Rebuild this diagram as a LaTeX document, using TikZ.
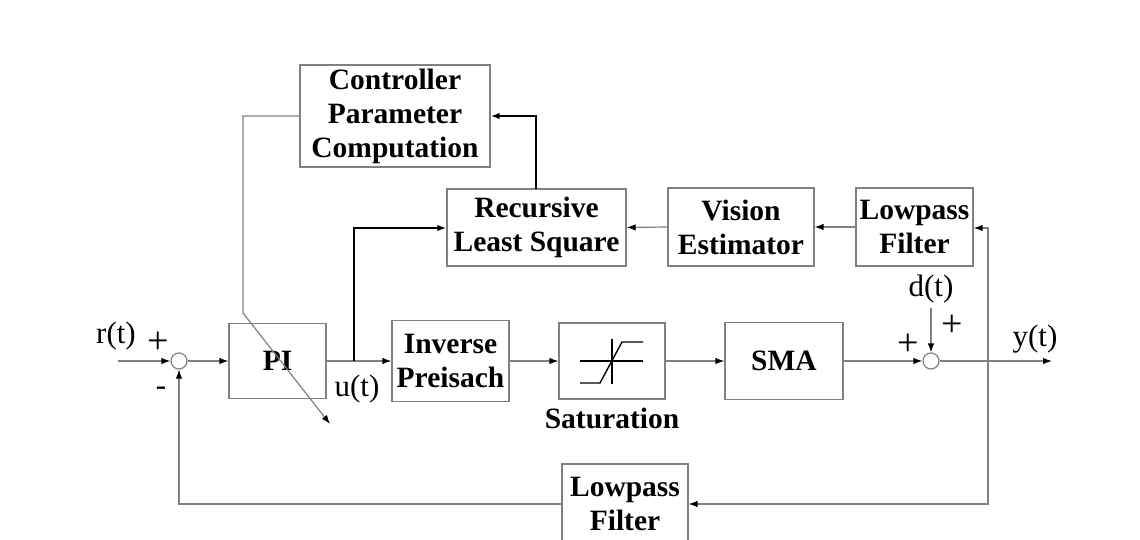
\documentclass[tikz,border=0pt]{standalone}
\usepackage{fontspec}
\setmainfont{Liberation Serif}
\usetikzlibrary{arrows.meta}
\definecolor{ln}{RGB}{128,128,128}
\tikzset{
  blk/.style={draw=ln, line width=1.2pt, fill=white, align=center, inner sep=0pt,
    font=\fontsize{29.5}{34}\selectfont\bfseries},
  sumj/.style={circle, draw=ln, line width=1.2pt, minimum size=16pt, inner sep=0pt},
  tip/.style={-{Latex[length=9pt,width=6.5pt,color=black]}},
  sig/.style={ln, line width=1.2pt},
  bsig/.style={black, line width=1.8pt},
  lab/.style={font=\fontsize{31}{34}\selectfont, inner sep=0pt},
  plab/.style={font=\fontsize{38}{40}\selectfont, inner sep=0pt},
}
\begin{document}
\begin{tikzpicture}[x=1pt,y=-1pt]
\useasboundingbox (0,0) rectangle (1140,540);
\fill[white] (0,0) rectangle (1140,540);
% blocks
\node[blk, minimum width=190pt, minimum height=102pt] (cpc) at (395,116) {Controller\\Parameter\\Computation};
\node[blk, minimum width=179pt, minimum height=77pt] (rls) at (536.5,227.5) {Recursive\\Least Square};
\node[blk, minimum width=146pt, minimum height=78pt] (vis) at (741,227) {Vision\\Estimator};
\node[blk, minimum width=117pt, minimum height=78pt] (lpa) at (914.5,227) {Lowpass\\Filter};
\node[blk, minimum width=97pt, minimum height=75pt] (pi) at (277.5,361) {PI};
\node[blk, minimum width=117pt, minimum height=81pt] (inv) at (450.5,361) {Inverse\\Preisach};
\node[blk, minimum width=106pt, minimum height=76pt] (sat) at (612,361) {};
\node[blk, minimum width=118pt, minimum height=77pt] (sma) at (784,361) {SMA};
\node[blk, minimum width=126pt, minimum height=80pt] (lpb) at (625,504) {Lowpass\\Filter};
\node[sumj] (s1) at (179,361) {};
\node[sumj] (s2) at (931,361) {};
% saturation symbol
\draw[black, line width=1.4pt] (580,361) -- (643,361);
\draw[black, line width=1.4pt] (612,339) -- (612,384);
\draw[black, line width=1.4pt] (580,383) -- (600,383) -- (622,342) -- (643,342);
\node[font=\fontsize{29.5}{32}\selectfont\bfseries, inner sep=0pt] (satl) at (612,418) {Saturation};
% coordinates
\coordinate (rin) at (118,361);
\coordinate (ub) at (354,361);
\coordinate (ybr) at (988,361);
\coordinate (yout) at (1052,361);
\coordinate (dtop) at (931,308);
\coordinate (diagend) at (330,424);
% main path
\draw[sig, tip] (rin) -- (s1.west);
\draw[sig, tip] (s1.east) -- (pi.west);
\draw[sig, tip] (pi.east) -- (inv.west);
\draw[sig, tip] (inv.east) -- (sat.west);
\draw[sig, tip] (sat.east) -- (sma.west);
\draw[sig, tip] (sma.east) -- (s2.west);
\draw[sig, tip] (s2.east) -- (yout);
\draw[sig, tip] (dtop) -- (s2.north);
% feedback
\draw[sig, tip] (ybr) -- (988,504) -- (lpb.east);
\draw[sig, tip] (lpb.west) -- (179,504) -- (s1.south);
\draw[sig, tip] (ybr) -- (988,228) -- (lpa.east |- 0,228);
\draw[sig, tip] (lpa.west) -- (vis.east);
\draw[sig, tip] (vis.west) -- (rls.east);
% adaptation
\draw[bsig, tip] (ub) -- (354,228) -- (rls.west |- 0,228);
\draw[bsig, tip] (536,189) -- (536,116) -- (cpc.east);
\draw[sig, tip] (cpc.west) -- (243,116) -- (243,313) -- (diagend);
% labels
\node[lab] (lr) at (116,336) {r(t)};
\node[plab] (lp1) at (158,343) {+};
\node[lab] (lm1) at (161,391) {-};
\node[lab] (lu) at (357,389) {u(t)};
\node[lab] (ld) at (931,289) {d(t)};
\node[plab] (lp2) at (952,326) {+};
\node[plab] (lp3) at (908,345) {+};
\node[lab] (ly) at (1035,339) {y(t)};
\end{tikzpicture}
\end{document}
